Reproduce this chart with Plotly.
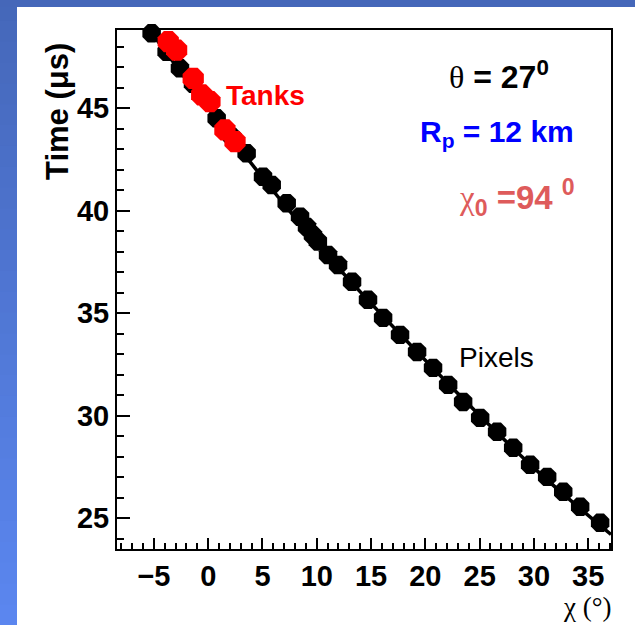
import plotly.graph_objects as go

# ---- data ----
pixel_chi = [-5.21, -3.83, -2.60, -1.40, 0.78, 2.20, 3.54, 5.05, 5.85, 7.23, 8.46, 9.10,
             9.65, 10.10, 11.04, 11.96, 13.25, 14.72, 16.11, 17.67, 19.24, 20.71, 22.10,
             23.48, 25.05, 26.61, 28.09, 29.65, 31.22, 32.70, 34.26, 36.10]
pixel_time = [48.66, 47.76, 46.95, 46.20, 44.51, 43.60, 42.80, 41.66, 41.26, 40.37, 39.71, 39.20,
              38.80, 38.50, 37.84, 37.35, 36.53, 35.65, 34.77, 33.94, 33.11, 32.33, 31.50,
              30.67, 29.89, 29.21, 28.43, 27.60, 27.01, 26.28, 25.55, 24.77]
tank_chi = [-3.68, -2.91, -1.38, -0.60, 0.16, 1.54, 2.47]
tank_time = [48.25, 47.84, 46.46, 45.65, 45.32, 43.94, 43.37]
fit_chi = [-6.2, 0.0, 10.0, 20.0, 30.0, 37.1]
fit_time = [49.4, 45.0, 38.4, 32.7, 27.45, 24.2]

W, H = 635, 625
L, R, T, B = 117, 611, 30, 549
pw, ph = R - L, B - T


def px(x):
    return (x - L) / pw


def py(y):
    return (B - y) / ph


fig = go.Figure()
fig.add_trace(go.Scatter(x=fit_chi, y=fit_time, mode="lines", line=dict(color="black", width=3.5, shape="spline"),
                         showlegend=False, hoverinfo="skip"))
fig.add_trace(go.Scatter(x=pixel_chi, y=pixel_time, mode="markers",
                         marker=dict(symbol="octagon", size=20, color="black", line=dict(width=0)),
                         showlegend=False, cliponaxis=False))
fig.add_trace(go.Scatter(x=tank_chi, y=tank_time, mode="markers",
                         marker=dict(symbol="octagon", size=23, color="#ff0000", line=dict(width=0)),
                         showlegend=False, cliponaxis=False))

shapes = []
# blue frame bands around the white panel
c0 = (69, 103, 185)
c1 = (91, 135, 240)
n = 30
for i in range(n):
    f = (i + 0.5) / n
    col = "rgb(%d,%d,%d)" % tuple(int(round(a + (b - a) * f)) for a, b in zip(c0, c1))
    y0 = i * H / n
    y1 = (i + 1) * H / n + 1
    shapes.append(dict(type="rect", xref="paper", yref="paper", x0=px(0), x1=px(17),
                       y0=py(y1), y1=py(y0), fillcolor=col, line=dict(width=0), layer="below"))
shapes.append(dict(type="rect", xref="paper", yref="paper", x0=px(0), x1=px(W),
                   y0=py(7), y1=py(0), fillcolor="rgb(69,103,185)", line=dict(width=0), layer="below"))

sans = "Liberation Sans, Arial, sans-serif"
serif = "Liberation Serif, Times New Roman, serif"

ann = [
    dict(x=px(265), y=py(95), text="Tanks", font=dict(family=sans, size=28, color="#ff0000", weight="bold")),
    dict(x=px(496), y=py(357), text="Pixels", font=dict(family=sans, size=28, color="black")),
    dict(x=px(499), y=py(75), text="<span style='font-family:Liberation Serif;font-weight:normal'>θ</span> = 27<sup>0</sup>",
         font=dict(family=sans, size=32, color="black", weight="bold")),
    dict(x=px(497), y=py(133), text="R<sub>p</sub> = 12 km", font=dict(family=sans, size=30, color="#0000ff", weight="bold")),
    dict(x=px(517), y=py(197), text="<span style='font-family:Liberation Serif;font-weight:normal'>χ</span><sub>0</sub> =94 <sup>0</sup>",
         font=dict(family=sans, size=33, color="#de5b5b", weight="bold")),
    dict(x=px(57), y=py(112), text="Time (μs)", textangle=-90, font=dict(family=sans, size=31, color="black", weight="bold")),
    dict(x=px(614), y=py(607), text="χ (°)", xanchor="right", font=dict(family=serif, size=27, color="black")),
]
for a in ann:
    a.setdefault("xanchor", "center")
    a.update(xref="paper", yref="paper", yanchor="middle", showarrow=False)

axis_common = dict(showline=True, linewidth=2, linecolor="black", mirror=True, showgrid=False, zeroline=False,
                   ticks="inside", tickwidth=2, tickcolor="black",
                   tickfont=dict(family=sans, size=29, color="black", weight="bold"),
                   tickmode="linear", tick0=0, dtick=5)

fig.update_layout(
    width=W, height=H,
    margin=dict(l=L, r=W - R, t=T, b=H - B),
    paper_bgcolor="white", plot_bgcolor="white",
    xaxis=dict(range=[-8.4, 37.1], ticklen=11,
               minor=dict(dtick=1, tick0=0, ticks="inside", ticklen=6, tickwidth=2, tickcolor="black", showgrid=False),
               **axis_common),
    yaxis=dict(range=[23.49, 48.82], ticklen=13,
               minor=dict(dtick=1, tick0=0, ticks="inside", ticklen=7, tickwidth=2, tickcolor="black", showgrid=False),
               **axis_common),
    shapes=shapes,
    annotations=ann,
)

fig.write_html("out.html")
